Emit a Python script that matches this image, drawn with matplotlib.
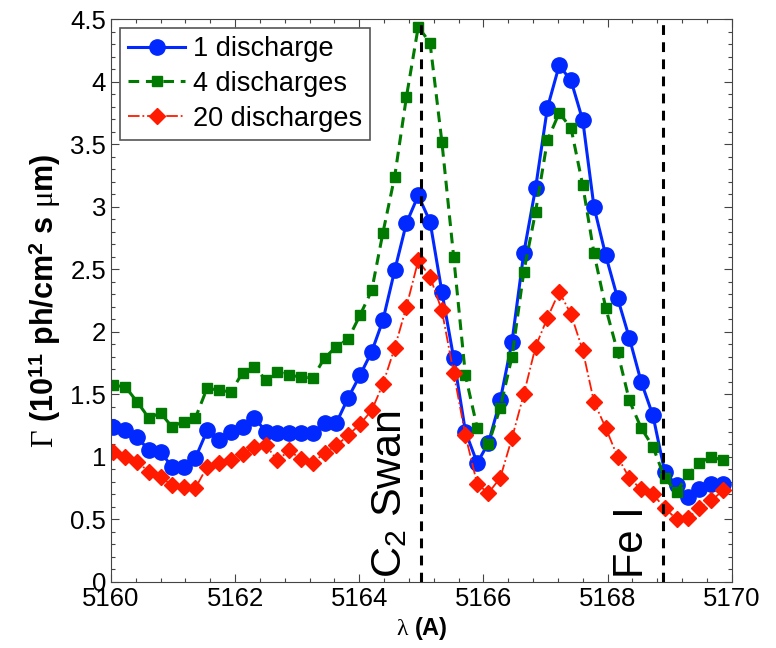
import matplotlib
matplotlib.use('Agg')
import matplotlib.pyplot as plt
from matplotlib.ticker import MultipleLocator

plt.rcParams['font.family'] = ['Liberation Sans', 'DejaVu Sans']
plt.rcParams['mathtext.fontset'] = 'custom'
plt.rcParams['mathtext.rm'] = 'Liberation Serif'
plt.rcParams['mathtext.it'] = 'Liberation Serif:italic'
plt.rcParams['mathtext.bf'] = 'Liberation Sans:bold'
plt.rcParams['mathtext.sf'] = 'Liberation Sans'

# wavelength grid (A) and photon flux (1e11 ph/cm^2 s um)
wavelength = [5160.04, 5160.23, 5160.42, 5160.61, 5160.80, 5160.98, 5161.17, 5161.36,
              5161.55, 5161.74, 5161.93, 5162.12, 5162.31, 5162.50, 5162.68, 5162.87,
              5163.06, 5163.25, 5163.44, 5163.63, 5163.82, 5164.01, 5164.20, 5164.38,
              5164.57, 5164.76, 5164.95, 5165.14, 5165.33, 5165.52, 5165.71, 5165.90,
              5166.08, 5166.27, 5166.46, 5166.65, 5166.84, 5167.03, 5167.22, 5167.41,
              5167.60, 5167.78, 5167.97, 5168.16, 5168.35, 5168.54, 5168.73, 5168.92,
              5169.11, 5169.30, 5169.48, 5169.67, 5169.86]

one_discharge = [1.24, 1.21, 1.16, 1.05, 1.04, 0.92, 0.92, 0.99,
                 1.21, 1.13, 1.20, 1.24, 1.31, 1.20, 1.19, 1.19,
                 1.19, 1.19, 1.27, 1.27, 1.47, 1.65, 1.84, 2.09,
                 2.49, 2.87, 3.09, 2.88, 2.32, 1.79, 1.20, 0.95,
                 1.11, 1.45, 1.92, 2.63, 3.15, 3.79, 4.13, 4.01,
                 3.69, 3.00, 2.61, 2.27, 1.95, 1.60, 1.33, 0.88,
                 0.77, 0.68, 0.74, 0.78, 0.78]

four_discharges = [1.57, 1.56, 1.44, 1.31, 1.35, 1.24, 1.28, 1.31,
                   1.55, 1.53, 1.52, 1.67, 1.72, 1.61, 1.68, 1.65,
                   1.64, 1.63, 1.79, 1.88, 1.94, 2.13, 2.33, 2.79,
                   3.24, 3.88, 4.44, 4.31, 3.52, 2.60, 1.65, 1.23,
                   1.10, 1.39, 1.80, 2.48, 2.96, 3.53, 3.75, 3.63,
                   3.17, 2.63, 2.19, 1.84, 1.45, 1.23, 1.08, 0.83,
                   0.72, 0.86, 0.95, 1.00, 0.97]

twenty_discharges = [1.04, 1.00, 0.96, 0.88, 0.84, 0.77, 0.76, 0.75,
                     0.92, 0.95, 0.97, 1.02, 1.08, 1.09, 0.97, 1.05,
                     0.98, 0.95, 1.03, 1.09, 1.17, 1.26, 1.37, 1.58,
                     1.87, 2.20, 2.57, 2.44, 2.17, 1.67, 1.17, 0.78,
                     0.71, 0.83, 1.15, 1.50, 1.88, 2.11, 2.32, 2.14,
                     1.85, 1.44, 1.23, 1.00, 0.83, 0.74, 0.70, 0.59,
                     0.50, 0.51, 0.59, 0.65, 0.73]

line_positions = [5165.0, 5168.9]
line_names = [r'C$_{\mathsf{2}}$ Swan', 'Fe I']

yticks = [0, 0.5, 1, 1.5, 2, 2.5, 3, 3.5, 4, 4.5]
ytick_labels = ['0', '0.5', '1', '1.5', '2', '2.5', '3', '3.5', '4', '4.5']

fig = plt.figure(figsize=(7.76, 6.48), dpi=100)
ax = fig.add_axes([0.143, 0.1023, 0.8, 0.8681])

ax.plot(wavelength, one_discharge, '-o', color='#0028ff', lw=2.2, ms=11,
        label='1 discharge')
ax.plot(wavelength, four_discharges, '--s', color='#007a00', lw=2.2, ms=7.5,
        dashes=(3.5, 2.2), label='4 discharges')
ax.plot(wavelength, twenty_discharges, '-.D', color='#ff1a00', lw=1.3, ms=8.3,
        label='20 discharges')

for xl in line_positions:
    ax.axvline(xl, color='k', lw=2.2, dashes=(3.2, 2.4), zorder=5)

ax.text(5164.5, 0.03, line_names[0], rotation=90, fontsize=31,
        ha='center', va='bottom')
ax.text(5168.4, 0.03, line_names[1], rotation=90, fontsize=30,
        ha='center', va='bottom')

ax.set_xlim(5160, 5170)
ax.set_ylim(0, 4.5)
ax.set_xticks([5160, 5162, 5164, 5166, 5168, 5170])
ax.set_yticks(yticks)
ax.set_yticklabels(ytick_labels)
ax.xaxis.set_minor_locator(MultipleLocator(0.4))
ax.yaxis.set_minor_locator(MultipleLocator(0.1))
ax.tick_params(which='both', direction='in', top=True, right=True,
               labelsize=18.5, color='#444444', width=0.8)
ax.tick_params(which='major', length=6)
ax.tick_params(which='minor', length=3)
for sp in ax.spines.values():
    sp.set_color('#444444')

ax.set_xlabel(r'$\mathrm{\lambda}$ (A)', fontsize=17, fontweight='bold', labelpad=3)
ax.set_ylabel(r'$\Gamma$ (10$^{\mathbf{11}}$ ph/cm$^{\mathbf{2}}$ s $\mathrm{\mu}$m)',
              fontsize=22, fontweight='bold', labelpad=5)

leg = ax.legend(loc='upper left', bbox_to_anchor=(0.0145, 0.984), borderaxespad=0,
                fontsize=19.5, handlelength=2.1, handletextpad=0.3,
                labelspacing=0.32, borderpad=0.3, fancybox=False, framealpha=1)
leg.get_frame().set_edgecolor('#555555')
leg.get_frame().set_linewidth(1.2)

fig.savefig('out.png', dpi=100)
